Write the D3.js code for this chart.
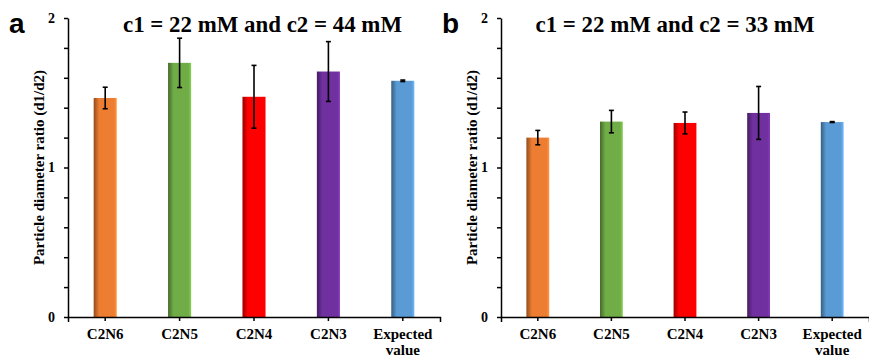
<!DOCTYPE html>
<html>
<head>
<meta charset="utf-8">
<script src="https://cdn.jsdelivr.net/npm/d3@7"></script>
<style>
  body { margin: 0; background: #fff; }
  svg { display: block; }
  .axis path, .axis line { stroke: #000; stroke-width: 1.5px; }
  .axis text { font-family: "Liberation Serif", "Times New Roman", serif; font-weight: bold; fill: #000; }
</style>
</head>
<body>
<div id="chart"></div>
<script>
const categories = ["C2N6", "C2N5", "C2N4", "C2N3", "Expected value"];
const colors = ["#ED7D31", "#70AD47", "#FF0000", "#7030A0", "#5B9BD5"];

// panel a: c1 = 22 mM, c2 = 44 mM
const valuesA = [1.465, 1.70, 1.473, 1.642, 1.58];
const errorsA = [0.072, 0.165, 0.21, 0.20, 0.005];
// panel b: c1 = 22 mM, c2 = 33 mM
const valuesB = [1.20, 1.307, 1.298, 1.365, 1.304];
const errorsB = [0.048, 0.075, 0.073, 0.177, 0.003];

const yTicks = [0, 0.2, 0.4, 0.6, 0.8, 1, 1.2, 1.4, 1.6, 1.8, 2];
const yLabels = [0, 1, 2];

const width = 869, height = 357;
const svg = d3.select("#chart").append("svg")
  .attr("width", width)
  .attr("height", height);

// bar gradients: dark left edge, light right edge
const defs = svg.append("defs");
colors.forEach((c, i) => {
  const g = defs.append("linearGradient")
    .attr("id", "grad" + i)
    .attr("x1", "0%").attr("x2", "100%").attr("y1", "0%").attr("y2", "0%");
  const base = d3.color(c);
  g.append("stop").attr("offset", "0%").attr("stop-color", base.darker(1.4));
  g.append("stop").attr("offset", "14%").attr("stop-color", base.darker(0.5));
  g.append("stop").attr("offset", "24%").attr("stop-color", base);
  g.append("stop").attr("offset", "88%").attr("stop-color", base);
  g.append("stop").attr("offset", "100%").attr("stop-color", base.brighter(0.5));
});

function drawPanel(letter, title, values, errors, left, right, letterX, titleX) {
  const top = 18, bottom = 317;
  const x = d3.scaleBand().domain(categories).range([left, right]).padding(0);
  const y = d3.scaleLinear().domain([0, 2]).range([bottom, top]);
  const barW = x.bandwidth() * 0.31;

  const g = svg.append("g");

  // bars
  g.selectAll(".bar")
    .data(categories)
    .enter()
    .append("rect")
    .attr("x", d => x(d) + (x.bandwidth() - barW) / 2)
    .attr("width", barW)
    .attr("y", (d, i) => y(values[i]))
    .attr("height", (d, i) => y(0) - y(values[i]))
    .attr("fill", (d, i) => `url(#grad${i})`);

  // error bars
  const eb = g.selectAll(".err")
    .data(categories)
    .enter()
    .append("g")
    .attr("stroke", "#000")
    .attr("stroke-width", 1.6);
  eb.append("line")
    .attr("x1", d => x(d) + x.bandwidth() / 2)
    .attr("x2", d => x(d) + x.bandwidth() / 2)
    .attr("y1", (d, i) => y(values[i] + errors[i]))
    .attr("y2", (d, i) => y(values[i] - errors[i]));
  [1, -1].forEach(s => {
    eb.append("line")
      .attr("x1", d => x(d) + x.bandwidth() / 2 - 2.5)
      .attr("x2", d => x(d) + x.bandwidth() / 2 + 2.5)
      .attr("y1", (d, i) => y(values[i] + s * errors[i]))
      .attr("y2", (d, i) => y(values[i] + s * errors[i]));
  });

  // y axis
  const yAxis = g.append("g")
    .attr("class", "axis")
    .attr("transform", `translate(${left},0)`)
    .call(d3.axisLeft(y).tickValues(yTicks).tickSize(4).tickSizeOuter(0)
      .tickFormat(d => yLabels.includes(d) ? d3.format("d")(d) : ""));
  yAxis.selectAll("text")
    .attr("x", -13)
    .style("font-size", "14px");

  // x axis
  const xAxis = g.append("g")
    .attr("class", "axis")
    .attr("transform", `translate(0,${bottom})`)
    .call(d3.axisBottom(x).tickSize(4).tickSizeOuter(5));
  xAxis.selectAll(".tick text").each(function(d) {
    const t = d3.select(this);
    const words = d.split(" ");
    t.text(null).attr("y", 22).attr("dy", null).style("font-size", "15px");
    words.forEach((w, k) => {
      t.append("tspan").attr("x", 0).attr("dy", k === 0 ? 0 : 16).text(w);
    });
  });

  // y axis title
  svg.append("text")
    .attr("transform", `translate(${left - 24},${y(1)}) rotate(-90)`)
    .attr("text-anchor", "middle")
    .style("font-family", '"Liberation Serif", "Times New Roman", serif')
    .style("font-weight", "bold")
    .style("font-size", "15px")
    .text("Particle diameter ratio (d1/d2)");

  // panel title
  svg.append("text")
    .attr("x", titleX)
    .attr("y", 32)
    .attr("text-anchor", "middle")
    .attr("textLength", 279)
    .attr("lengthAdjust", "spacingAndGlyphs")
    .style("font-family", '"Liberation Serif", "Times New Roman", serif')
    .style("font-weight", "bold")
    .style("font-size", "23px")
    .text(title);

  // panel letter
  svg.append("text")
    .attr("x", letterX)
    .attr("y", 33)
    .style("font-family", '"Liberation Sans", Arial, sans-serif')
    .style("font-weight", "bold")
    .style("font-size", "28px")
    .text(letter);
}

drawPanel("a", "c1 = 22 mM and c2 = 44 mM", valuesA, errorsA, 68, 440, 9, 262.5);
drawPanel("b", "c1 = 22 mM and c2 = 33 mM", valuesB, errorsB, 501, 869, 442, 675);
</script>
</body>
</html>
